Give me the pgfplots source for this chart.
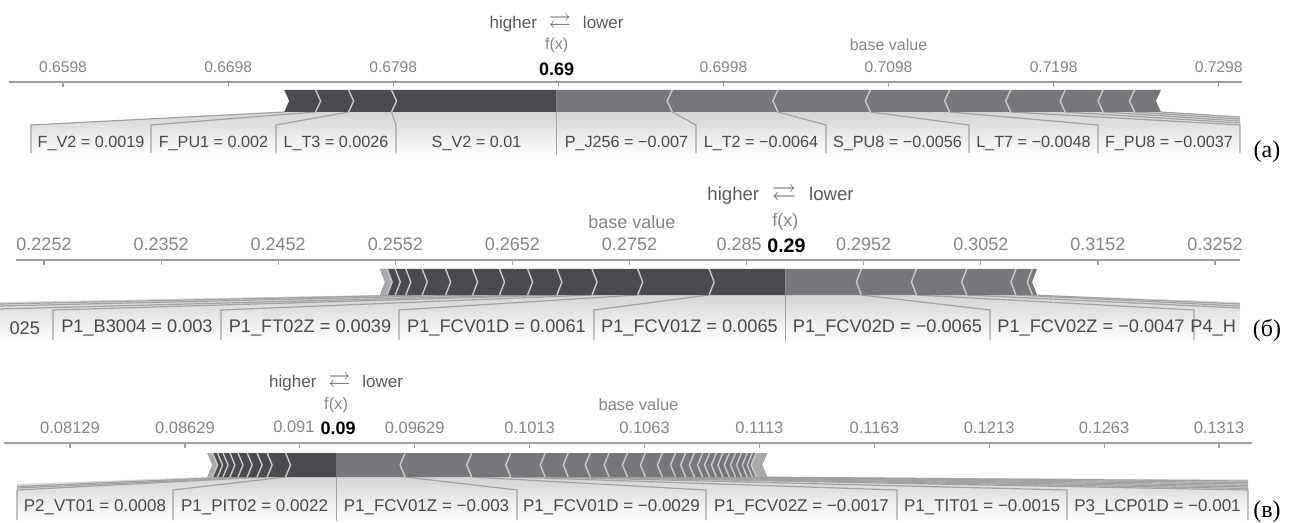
\documentclass[border=0pt]{standalone}
\usepackage{pgfplots}
\pgfplotsset{compat=1.18}
\usepackage{amssymb}
\usepackage{fontspec}
\setmainfont{Liberation Sans}
\newfontfamily\serifpanel{Liberation Serif}
\definecolor{posdark}{HTML}{4A4A4F}
\definecolor{neglight}{HTML}{75777A}
\definecolor{tiplight}{HTML}{A8AAAD}
\definecolor{sepcol}{HTML}{CACACA}
\definecolor{axisgray}{HTML}{A0A0A0}
\definecolor{tickgray}{HTML}{858585}
\definecolor{linkgray}{HTML}{A2A2A2}
\definecolor{labtext}{HTML}{4A4A4A}
\definecolor{hltext}{HTML}{5A5A5A}
\definecolor{shadegray}{HTML}{D4D4D4}
\newcommand{\hlarrow}[1]{{\fontsize{#1}{#1}\selectfont$\rightleftarrows$}}

\pgfdeclareplotmark{chevR}{%
  \pgfpathmoveto{\pgfqpoint{0pt}{\pgfplotmarksize}}%
  \pgfpathlineto{\pgfqpoint{2.5pt}{0pt}}%
  \pgfpathlineto{\pgfqpoint{0pt}{-\pgfplotmarksize}}%
  \pgfusepathqstroke}
\pgfdeclareplotmark{chevL}{%
  \pgfpathmoveto{\pgfqpoint{0pt}{\pgfplotmarksize}}%
  \pgfpathlineto{\pgfqpoint{-2.5pt}{0pt}}%
  \pgfpathlineto{\pgfqpoint{0pt}{-\pgfplotmarksize}}%
  \pgfusepathqstroke}

\pgfplotsset{
  forcebase/.style={
    scale only axis, clip=false, enlargelimits=false, scaled x ticks=false,
    axis x line*=top, hide y axis,
    axis line style={draw=axisgray, line width=0.6pt, -},
    tick align=inside, major tick length=2.6pt,
    xtick style={draw=axisgray, line width=0.6pt},
    anchor=north west,
  },
  seps/.style={only marks, mark=#1, mark options={draw=sepcol, line width=0.7pt, solid}},
  link/.style={draw=linkgray, line width=0.6pt},
  shade/.style={draw=none, top color=shadegray, bottom color=white},
}

\begin{document}
\begin{tikzpicture}
\path[use as bounding box] (0pt,0pt) rectangle (646.5pt,-261.5pt);

% ================= panel (a) =================
\begin{axis}[forcebase, at={(4.5pt,-41pt)}, width=616.5pt, height=39pt,
  xmin=0.656529, xmax=0.731211, ymin=-160, ymax=-82,
  xtick={0.6598,0.6698,0.6798,0.6898,0.6998,0.7098,0.7198,0.7298},
  xticklabels={0.6598,0.6698,0.6798,{},0.6998,0.7098,0.7198,0.7298},
  xticklabel style={font=\fontsize{7.8}{9}\selectfont, text=tickgray, yshift=1pt},
]
\addplot[shade] coordinates {(0.657862,-125) (0.6732,-112) (0.7263,-112) (0.731091,-117) (0.731091,-157) (0.657862,-157)} -- cycle;
\addplot[link] coordinates {(0.657862,-153) (0.657862,-125) (0.6732,-112)};
\addplot[link] coordinates {(0.665130,-153) (0.665130,-125) (0.6751,-112)};
\addplot[link] coordinates {(0.672701,-153) (0.672701,-125) (0.6771,-112)};
\addplot[link] coordinates {(0.679969,-153) (0.679969,-125) (0.6797,-112)};
\addplot[link] coordinates {(0.6897,-155) (0.6897,-112)};
\addplot[link] coordinates {(0.698141,-153) (0.698141,-125) (0.6967,-112)};
\addplot[link] coordinates {(0.706014,-153) (0.706014,-125) (0.7031,-112)};
\addplot[link] coordinates {(0.714676,-153) (0.714676,-125) (0.7087,-112)};
\addplot[link] coordinates {(0.722489,-153) (0.722489,-125) (0.7135,-112)};
\addplot[link] coordinates {(0.731091,-153) (0.731091,-125) (0.7172,-112)};
\addplot[link] coordinates {(0.7205,-112) (0.731091,-123)};
\addplot[link] coordinates {(0.7228,-112) (0.731091,-121)};
\addplot[link] coordinates {(0.7247,-112) (0.731091,-119)};
\addplot[link] coordinates {(0.7263,-112) (0.731091,-117)};
% bar
\addplot[fill=posdark, draw=none] coordinates {(0.6732,-90) (0.6897,-90) (0.6897,-112) (0.6732,-112) (0.6735,-101)} -- cycle;
\addplot[fill=neglight, draw=none] coordinates {(0.6897,-90) (0.7263,-90) (0.7260,-101) (0.7263,-112) (0.6897,-112)} -- cycle;
\addplot[seps=chevR, mark size=5.5pt] coordinates {(0.6751,-101) (0.6771,-101) (0.6797,-101)};
\addplot[seps=chevL, mark size=5.5pt] coordinates {(0.6967,-101) (0.7031,-101) (0.7087,-101) (0.7135,-101) (0.7172,-101) (0.7205,-101) (0.7228,-101) (0.7247,-101)};
% texts
\begin{scope}[every node/.style={font=\fontsize{8.1}{9.5}\selectfont, text=labtext}]
\node at (axis cs:0.661496,-143) {F\_V2 = 0.0019};
\node at (axis cs:0.668916,-143) {F\_PU1 = 0.002};
\node at (axis cs:0.676335,-143) {L\_T3 = 0.0026};
\node at (axis cs:0.684845,-143) {S\_V2 = 0.01};
\node at (axis cs:0.693931,-143) {P\_J256 = −0.007};
\node at (axis cs:0.702077,-143) {L\_T2 = −0.0064};
\node at (axis cs:0.710345,-143) {S\_PU8 = −0.0056};
\node at (axis cs:0.718582,-143) {L\_T7 = −0.0048};
\node at (axis cs:0.726789,-143) {F\_PU8 = −0.0037};
\end{scope}
\node[font=\fontsize{8.5}{10}\selectfont, text=hltext] at (axis cs:0.6897,-23) {higher\hspace{6pt}\hlarrow{11}\hspace{6pt}lower};
\node[font=\fontsize{8}{9.5}\selectfont, text=tickgray] at (axis cs:0.6897,-45) {f(x)};
\node[font=\fontsize{8}{9.5}\selectfont, text=tickgray] at (axis cs:0.7098,-45) {base value};
\node[font=\bfseries\fontsize{9}{10}\selectfont, text=black, fill=white, inner sep=1pt] at (axis cs:0.6897,-69) {0.69};
\node[font=\serifpanel\fontsize{12}{14}\selectfont, text=black] at (axis cs:0.732726,-152) {(a)};
\end{axis}

% ================= panel (b) =================
\begin{axis}[forcebase, at={(8pt,-130pt)}, width=612pt, height=42.5pt,
  xmin=0.222809, xmax=0.327335, ymin=-345, ymax=-260,
  xtick={0.2252,0.2352,0.2452,0.2552,0.2652,0.2752,0.2852,0.2952,0.3052,0.3152,0.3252},
  xticklabels={0.2252,0.2352,0.2452,0.2552,0.2652,0.2752,{},0.2952,0.3052,0.3152,0.3252},
  xticklabel style={font=\fontsize{9}{10.5}\selectfont, text=tickgray, yshift=1pt},
]
\addplot[shade] coordinates {(0.221443,-302) (0.2539,-295) (0.3100,-295) (0.327335,-302) (0.327335,-342) (0.221443,-342)} -- cycle;
\addplot[link] coordinates {(0.2665,-295) (0.221443,-309)};
\addplot[link] coordinates {(0.2618,-295) (0.221443,-306)};
\addplot[link] coordinates {(0.2575,-295) (0.221443,-304)};
\addplot[link] coordinates {(0.225969,-340) (0.225969,-310) (0.2690,-295)};
\addplot[link] coordinates {(0.240315,-340) (0.240315,-310) (0.2720,-295)};
\addplot[link] coordinates {(0.255516,-340) (0.255516,-310) (0.2759,-295)};
\addplot[link] coordinates {(0.272168,-340) (0.272168,-310) (0.2820,-295)};
\addplot[link] coordinates {(0.2885,-342) (0.2885,-295)};
\addplot[link] coordinates {(0.305985,-340) (0.305985,-310) (0.2950,-295)};
\addplot[link] coordinates {(0.323406,-340) (0.323406,-310) (0.2997,-295)};
\addplot[link] coordinates {(0.3040,-295) (0.327335,-308)};
\addplot[link] coordinates {(0.3082,-295) (0.327335,-306)};
\addplot[link] coordinates {(0.3096,-295) (0.327335,-304)};
% bar
\addplot[fill=posdark, draw=none] coordinates {(0.2539,-269) (0.2885,-269) (0.2885,-295) (0.2539,-295) (0.25433,-282)} -- cycle;
\addplot[fill=tiplight, draw=none] coordinates {(0.2539,-269) (0.2545,-269) (0.25493,-282) (0.2545,-295) (0.2539,-295) (0.25433,-282)} -- cycle;
\addplot[fill=neglight, draw=none] coordinates {(0.2885,-269) (0.3100,-269) (0.30957,-282) (0.3100,-295) (0.2885,-295)} -- cycle;
\addplot[seps=chevR, mark size=6.5pt] coordinates {(0.2545,-282) (0.2552,-282) (0.2561,-282) (0.2575,-282) (0.2595,-282) (0.2618,-282) (0.2641,-282) (0.2665,-282) (0.2690,-282) (0.2720,-282) (0.2759,-282) (0.2820,-282)};
\addplot[seps=chevL, mark size=6.5pt] coordinates {(0.2950,-282) (0.2997,-282) (0.3040,-282) (0.3082,-282) (0.3096,-282)};
% texts
\begin{scope}[every node/.style={font=\fontsize{9.1}{10.5}\selectfont, text=labtext}]
\node[anchor=east] at (axis cs:0.225456,-328) {025};
\node at (axis cs:0.233142,-328) {P1\_B3004 = 0.003};
\node at (axis cs:0.247916,-328) {P1\_FT02Z = 0.0039};
\node at (axis cs:0.263842,-328) {P1\_FCV01D = 0.0061};
\node at (axis cs:0.280324,-328) {P1\_FCV01Z = 0.0065};
\node at (axis cs:0.297232,-328) {P1\_FCV02D = −0.0065};
\node at (axis cs:0.314611,-328) {P1\_FCV02Z = −0.0047};
\node[anchor=east] at (axis cs:0.327590,-328) {P4\_H};
\end{scope}
\node[font=\fontsize{9.3}{11}\selectfont, text=hltext] at (axis cs:0.2881,-195) {higher\hspace{6.5pt}\hlarrow{12}\hspace{6.5pt}lower};
\node[font=\fontsize{9}{10.5}\selectfont, text=tickgray] at (axis cs:0.2885,-222) {f(x)};
\node[font=\fontsize{9}{10.5}\selectfont, text=tickgray] at (axis cs:0.2754,-222) {base value};
\node[font=\fontsize{9}{10.5}\selectfont, text=tickgray, anchor=east, inner sep=0pt] at (axis cs:0.286515,-244.5) {0.285};
\node[font=\bfseries\fontsize{9.8}{11}\selectfont, text=black, inner sep=1pt] at (axis cs:0.2886,-246) {0.29};
\node[font=\serifpanel\fontsize{12}{14}\selectfont, text=black] at (axis cs:0.329640,-330) {(б)};
\end{axis}

% ================= panel (c) =================
\begin{axis}[forcebase, at={(2pt,-221.5pt)}, width=624pt, height=40pt,
  xmin=0.078418, xmax=0.132726, ymin=-523, ymax=-443,
  xtick={0.08129,0.08629,0.09129,0.09629,0.10129,0.10629,0.11129,0.11629,0.12129,0.12629,0.13129},
  xticklabels={0.08129,0.08629,{},0.09629,0.1013,0.1063,0.1113,0.1163,0.1213,0.1263,0.1313},
  xticklabel style={font=\fontsize{8.25}{10}\selectfont, text=tickgray, yshift=1pt},
]
\addplot[shade] coordinates {(0.078984,-484) (0.08727,-477) (0.11163,-477) (0.132552,-479.5) (0.132552,-521) (0.078984,-521)} -- cycle;
\addplot[link] coordinates {(0.08943,-477) (0.078984,-488)};
\addplot[link] coordinates {(0.08860,-477) (0.078984,-486.5)};
\addplot[link] coordinates {(0.078984,-520) (0.078984,-490) (0.08987,-477)};
\addplot[link] coordinates {(0.085772,-520) (0.085772,-490) (0.09067,-477)};
\addplot[link] coordinates {(0.09287,-521) (0.09287,-477)};
\addplot[link] coordinates {(0.100742,-520) (0.100742,-490) (0.09587,-477)};
\addplot[link] coordinates {(0.108966,-520) (0.108966,-490) (0.09877,-477)};
\addplot[link] coordinates {(0.117278,-520) (0.117278,-490) (0.10047,-477)};
\addplot[link] coordinates {(0.124676,-520) (0.124676,-490) (0.10197,-477)};
\addplot[link] coordinates {(0.132552,-520) (0.132552,-490) (0.10297,-477)};
\addplot[link] coordinates {(0.10393,-477) (0.132552,-488.5)};
\addplot[link] coordinates {(0.10555,-477) (0.132552,-487)};
\addplot[link] coordinates {(0.10707,-477) (0.132552,-485.5)};
\addplot[link] coordinates {(0.10846,-477) (0.132552,-484)};
\addplot[link] coordinates {(0.10970,-477) (0.132552,-482.5)};
\addplot[link] coordinates {(0.11076,-477) (0.132552,-481)};
% bar
\addplot[fill=posdark, draw=none] coordinates {(0.08727,-453) (0.09287,-453) (0.09287,-477) (0.08727,-477) (0.08749,-465)} -- cycle;
\addplot[fill=tiplight, draw=none] coordinates {(0.08727,-453) (0.08749,-453) (0.08771,-465) (0.08749,-477) (0.08727,-477) (0.08749,-465)} -- cycle;
\addplot[fill=neglight, draw=none] coordinates {(0.09287,-453) (0.11163,-453) (0.11141,-465) (0.11163,-477) (0.09287,-477)} -- cycle;
\addplot[fill=tiplight, draw=none] coordinates {(0.11115,-453) (0.11163,-453) (0.11141,-465) (0.11163,-477) (0.11115,-477) (0.11093,-465)} -- cycle;
\addplot[seps=chevR, mark size=6pt] coordinates {(0.08749,-465) (0.08771,-465) (0.08795,-465) (0.08825,-465) (0.08860,-465) (0.08900,-465) (0.08943,-465) (0.08987,-465) (0.09067,-465)};
\addplot[seps=chevL, mark size=6pt] coordinates {(0.09587,-465) (0.09877,-465) (0.10047,-465) (0.10197,-465) (0.10297,-465) (0.10393,-465) (0.10475,-465) (0.10555,-465) (0.10633,-465) (0.10707,-465) (0.10764,-465) (0.10808,-465) (0.10846,-465) (0.10882,-465) (0.10912,-465) (0.10942,-465) (0.10970,-465) (0.10998,-465) (0.11025,-465) (0.11051,-465) (0.11076,-465) (0.11098,-465) (0.11115,-465)};
% texts
\begin{scope}[every node/.style={font=\fontsize{8.5}{10}\selectfont, text=labtext}]
\node at (axis cs:0.082378,-507) {P2\_VT01 = 0.0008};
\node at (axis cs:0.089319,-507) {P1\_PIT02 = 0.0022};
\node at (axis cs:0.096803,-507) {P1\_FCV01Z = −0.003};
\node at (axis cs:0.104854,-507) {P1\_FCV01D = −0.0029};
\node at (axis cs:0.113122,-507) {P1\_FCV02Z = −0.0017};
\node at (axis cs:0.120977,-507) {P1\_TIT01 = −0.0015};
\node at (axis cs:0.128614,-507) {P3\_LCP01D = −0.001};
\end{scope}
\node[font=\fontsize{8.5}{10}\selectfont, text=hltext] at (axis cs:0.09287,-382) {higher\hspace{6pt}\hlarrow{11}\hspace{6pt}lower};
\node[font=\fontsize{8.25}{10}\selectfont, text=tickgray] at (axis cs:0.09287,-405) {f(x)};
\node[font=\fontsize{8.25}{10}\selectfont, text=tickgray] at (axis cs:0.10603,-405) {base value};
\node[font=\fontsize{8.25}{10}\selectfont, text=tickgray, anchor=east, inner sep=0pt] at (axis cs:0.091951,-427) {0.091};
\node[font=\bfseries\fontsize{9}{10.5}\selectfont, text=black, inner sep=1pt] at (axis cs:0.09296,-428) {0.09};
\node[font=\serifpanel\fontsize{12}{14}\selectfont, text=black] at (axis cs:0.133379,-512) {(в)};
\end{axis}
\end{tikzpicture}
\end{document}
